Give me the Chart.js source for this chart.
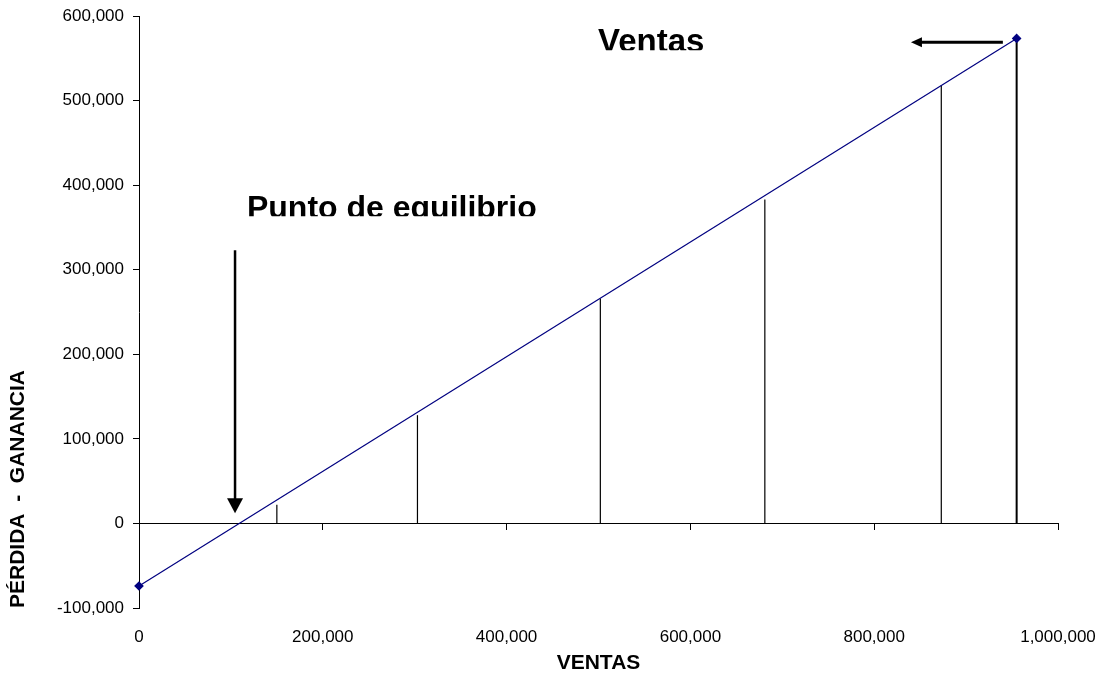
<!DOCTYPE html>
<html>
<head>
<meta charset="utf-8">
<script src="https://cdn.jsdelivr.net/npm/chart.js@4/dist/chart.umd.min.js"></script>
<style>
  html, body { margin: 0; padding: 0; background: #ffffff; }
  #wrap { width: 1102px; height: 677px; }
</style>
</head>
<body>
<div id="wrap"><canvas id="chart" width="1102" height="677"></canvas></div>
<script>
// Ventas vs. pérdida/ganancia (recta de resultado)
const ventas = [0, 955000];
const resultado = [-74000, 573500];

// líneas verticales bajo la recta
const corteVentas = [150000, 303000, 502000, 681000, 873000, 955000];
const corteValor = [22000, 128000, 266000, 383000, 518000, 573500];

const xTicks = [0, 200000, 400000, 600000, 800000, 1000000];
const yTicks = [-100000, 0, 100000, 200000, 300000, 400000, 500000, 600000];

// anotaciones (en unidades de los ejes)
const flechaEquilibrio = { x: 104500, yDesde: 323000, yHasta: 12000 };
const flechaVentas = { y: 569000, xDesde: 940000, xHasta: 840000 };
const textoEquilibrio = { texto: 'Punto de equilibrio', x: 117500, y: 361000 };
const textoVentas = { texto: 'Ventas', x: 499500, y: 557000 };

const fmt = v => Number(v).toLocaleString('en-US');
const FONT = "'Liberation Sans', Arial, sans-serif";

const datasets = [{
    label: 'Resultado',
    data: ventas.map((v, i) => ({ x: v, y: resultado[i] })),
    showLine: true,
    clip: false,
    borderColor: '#000080',
    borderWidth: 1.2,
    pointStyle: 'rectRot',
    pointRadius: 4,
    pointBackgroundColor: '#000080',
    pointBorderColor: '#000080',
    order: 0
}];

corteVentas.forEach((v, i) => {
    datasets.push({
        label: 'corte' + i,
        data: [{ x: v, y: 0 }, { x: v, y: corteValor[i] }],
        showLine: true,
        borderColor: '#000000',
        borderWidth: i === corteVentas.length - 1 ? 2 : 1.2,
        pointRadius: 0,
        order: 1
    });
});

// flechas y textos
const anotaciones = {
    id: 'anotaciones',
    afterDraw(chart) {
        const ctx = chart.ctx;
        const xs = chart.scales.x, ys = chart.scales.y;

        ctx.save();
        ctx.fillStyle = '#000';
        ctx.strokeStyle = '#000';

        // flecha hacia abajo
        let ax = xs.getPixelForValue(flechaEquilibrio.x);
        let ay1 = ys.getPixelForValue(flechaEquilibrio.yDesde);
        let ay2 = ys.getPixelForValue(flechaEquilibrio.yHasta);
        ctx.lineWidth = 2.5;
        ctx.beginPath();
        ctx.moveTo(ax, ay1);
        ctx.lineTo(ax, ay2 - 12);
        ctx.stroke();
        ctx.beginPath();
        ctx.moveTo(ax - 8, ay2 - 15);
        ctx.lineTo(ax + 8, ay2 - 15);
        ctx.lineTo(ax, ay2);
        ctx.closePath();
        ctx.fill();

        // flecha hacia la izquierda
        let by = ys.getPixelForValue(flechaVentas.y);
        let bx1 = xs.getPixelForValue(flechaVentas.xDesde);
        let bx2 = xs.getPixelForValue(flechaVentas.xHasta);
        ctx.lineWidth = 3;
        ctx.beginPath();
        ctx.moveTo(bx1, by);
        ctx.lineTo(bx2 + 8, by);
        ctx.stroke();
        ctx.beginPath();
        ctx.moveTo(bx2 + 11, by - 5);
        ctx.lineTo(bx2 + 11, by + 5);
        ctx.lineTo(bx2, by);
        ctx.closePath();
        ctx.fill();

        // textos (recortados por abajo, como en el original)
        ctx.textBaseline = 'alphabetic';
        ctx.textAlign = 'left';
        [[textoEquilibrio, 32], [textoVentas, 33]].forEach(([t, size]) => {
            const tx = xs.getPixelForValue(t.x);
            const ty = ys.getPixelForValue(t.y);
            ctx.save();
            ctx.font = 'bold ' + size + 'px ' + FONT;
            ctx.beginPath();
            ctx.rect(tx - 5, ty - 40, 400, 38);
            ctx.clip();
            ctx.fillText(t.texto, tx, ty);
            ctx.restore();
        });
        ctx.restore();
    }
};

new Chart(document.getElementById('chart'), {
    type: 'scatter',
    data: { datasets: datasets },
    options: {
        responsive: false,
        animation: false,
        events: [],
        layout: { padding: { left: 0, top: 16, right: 44, bottom: 0 } },
        plugins: { legend: { display: false }, tooltip: { enabled: false } },
        scales: {
            x: {
                type: 'linear',
                position: 'bottom',
                min: 0,
                max: 1000000,
                afterBuildTicks: s => { s.ticks = xTicks.map(v => ({ value: v })); },
                afterFit: s => { s.height = 69; s.paddingLeft = 0; s.paddingRight = 0; },
                ticks: {
                    callback: v => fmt(v),
                    color: '#000',
                    font: { family: FONT, size: 17 },
                    padding: 11,
                    maxRotation: 0,
                    autoSkip: false
                },
                grid: { display: false },
                border: { display: false },
                title: {
                    display: true,
                    text: 'VENTAS',
                    color: '#000',
                    font: { family: FONT, size: 21, weight: 'bold' },
                    padding: { top: 0, bottom: 1 }
                }
            },
            x0: {
                type: 'linear',
                axis: 'x',
                position: { y: 0 },
                min: 0,
                max: 1000000,
                afterBuildTicks: s => { s.ticks = xTicks.map(v => ({ value: v })); },
                afterFit: s => { s.paddingLeft = 0; s.paddingRight = 0; },
                ticks: { display: false },
                grid: { drawOnChartArea: false, drawTicks: true, tickLength: 6, color: '#000', lineWidth: 1 },
                border: { display: true, color: '#000', width: 1 }
            },
            y: {
                type: 'linear',
                position: 'left',
                min: -100000,
                max: 600000,
                afterBuildTicks: s => { s.ticks = yTicks.map(v => ({ value: v })); },
                afterFit: s => { s.width = 139; s.paddingTop = 0; s.paddingBottom = 0; },
                ticks: {
                    callback: v => fmt(v),
                    color: '#000',
                    font: { family: FONT, size: 17 },
                    padding: 9
                },
                grid: { drawOnChartArea: false, drawTicks: true, tickLength: 6, color: '#000', lineWidth: 1 },
                border: { display: true, color: '#000', width: 1 },
                title: {
                    display: true,
                    text: 'PÉRDIDA  -  GANANCIA',
                    align: 'start',
                    color: '#000',
                    font: { family: FONT, size: 21, weight: 'bold' },
                    padding: { top: 6, bottom: 0 }
                }
            }
        }
    },
    plugins: [anotaciones]
});
</script>
</body>
</html>
